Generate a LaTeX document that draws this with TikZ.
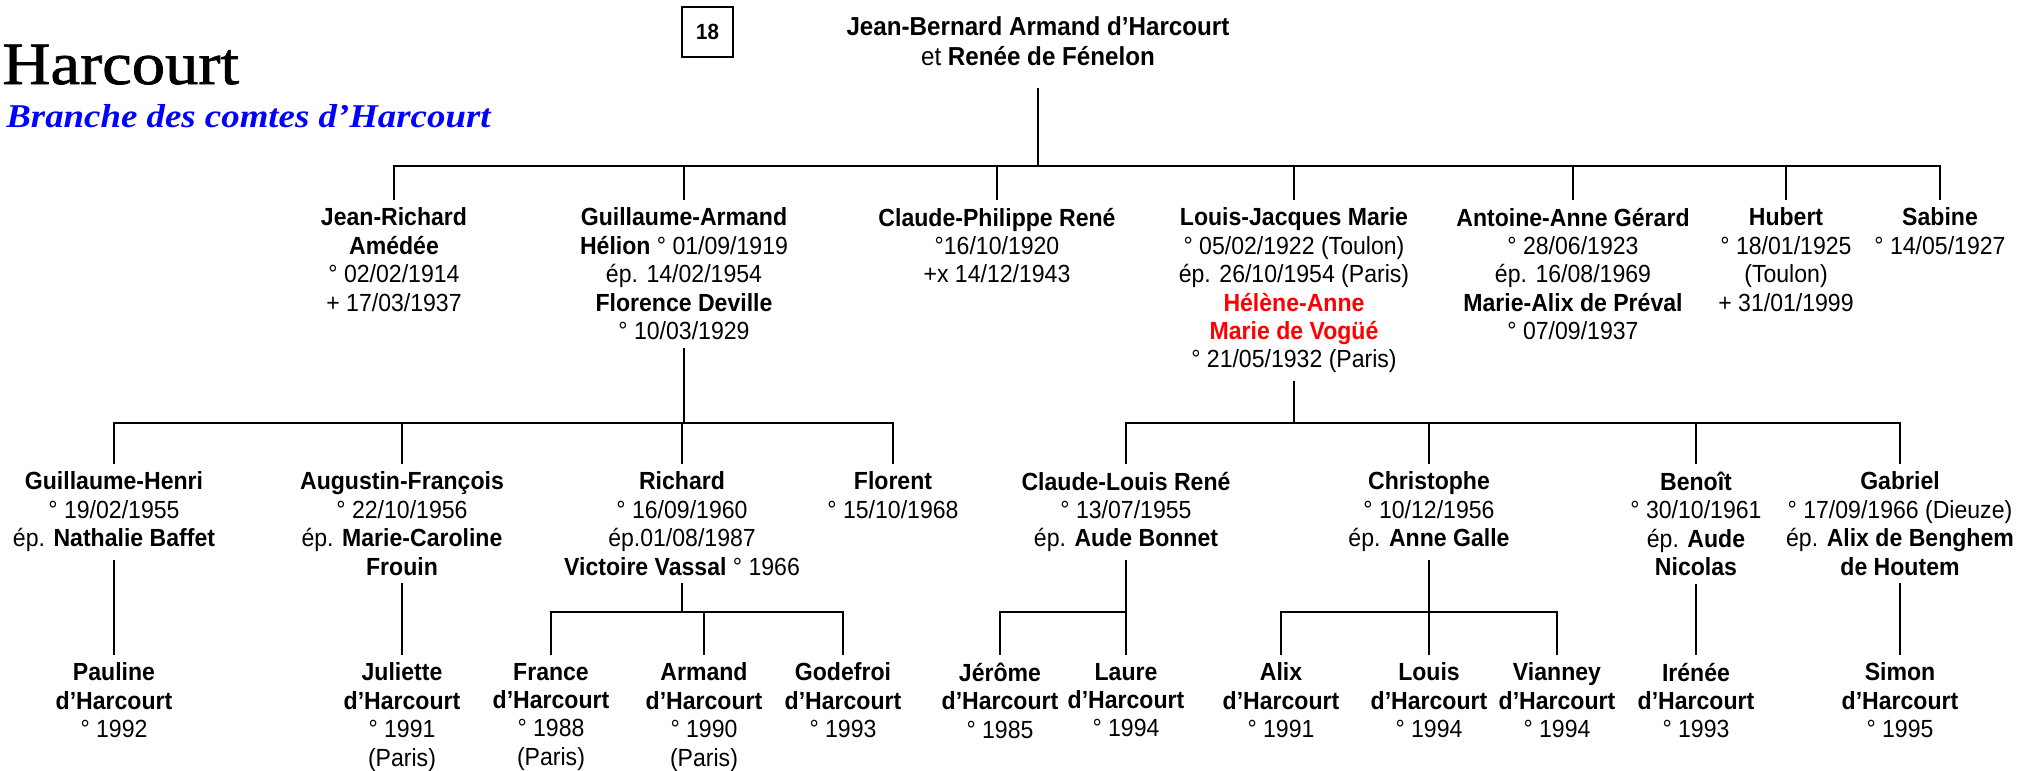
\documentclass[tikz,border=0pt]{standalone}
\usepackage{fontspec}
\setmainfont[FakeStretch=0.93]{Liberation Sans}
\newfontfamily\titlefont[FakeStretch=1.11]{Liberation Serif}
\newfontfamily\bigtitlefont[FakeStretch=1.11,FakeBold=1.2]{Liberation Serif}
\usepackage{tikz}
\usetikzlibrary{positioning}

\tikzset{
  person/.style={anchor=north, align=center, inner sep=0pt, outer ysep=4pt,
    font=\fontsize{12.4}{14.2}\selectfont},
  tline/.style={line width=1pt},
  bar/.style={line width=1.3pt, line cap=rect},
  numbox/.style={draw, line width=0.7pt, minimum width=25.5pt, minimum height=25pt,
    inner sep=0pt, font=\fontsize{11}{13}\selectfont\bfseries}
}

\begin{document}
\begin{tikzpicture}[x=0.5pt,y=-0.5pt]
\useasboundingbox (0,0) rectangle (2036,771);

% titre
\node[anchor=base west, inner sep=0pt, font=\bigtitlefont\fontsize{30}{34}\selectfont] (titre) at (2,84) {Harcourt};
\node[anchor=base west, inner sep=0pt, text=blue, font=\titlefont\fontsize{16.6}{19}\selectfont\bfseries\itshape] (branche) at (6,127) {Branche des comtes d’Harcourt};
\node[numbox] (num) at (707.5,32) {18};

% couple
\node[person, outer ysep=11pt, font=\fontsize{13}{15}\selectfont] (root) at (1038,-5) {\textbf{Jean-Bernard Armand d’Harcourt}\\et \textbf{Renée de Fénelon}};

% enfants
\coordinate (g1) at (0,166);
\node[person] (jr) at (394,200) {\textbf{Jean-Richard}\\\textbf{Amédée}\\° 02/02/1914\\+ 17/03/1937};
\node[person] (ga) at (684,200) {\textbf{Guillaume-Armand}\\\textbf{Hélion} ° 01/09/1919\\ép. 14/02/1954\\\textbf{Florence Deville}\\° 10/03/1929};
\node[person] (cp) at (997,200) {\textbf{Claude-Philippe René}\\°16/10/1920\\+x 14/12/1943};
\node[person] (lj) at (1294,200) {\textbf{Louis-Jacques Marie}\\° 05/02/1922 (Toulon)\\ép. 26/10/1954 (Paris)\\\textcolor{red}{\textbf{Hélène-Anne}}\\\textcolor{red}{\textbf{Marie de Vogüé}}\\° 21/05/1932 (Paris)};
\node[person] (aa) at (1573,200) {\textbf{Antoine-Anne Gérard}\\° 28/06/1923\\ép. 16/08/1969\\\textbf{Marie-Alix de Préval}\\° 07/09/1937};
\node[person] (hu) at (1786,200) {\textbf{Hubert}\\° 18/01/1925\\(Toulon)\\+ 31/01/1999};
\node[person] (sa) at (1940,200) {\textbf{Sabine}\\° 14/05/1927};

\draw[tline] (root.south) -- (root.south |- g1);
\draw[bar] (jr.north |- g1) -- (sa.north |- g1);
\foreach \p in {jr,ga,cp,lj,aa,hu,sa}
  \draw[tline] (\p.north |- g1) -- (\p.north);

% petits-enfants
\coordinate (g2) at (0,423);
\node[person] (gh) at (114,464) {\textbf{Guillaume-Henri}\\° 19/02/1955\\ép. \textbf{Nathalie Baffet}};
\node[person] (af) at (402,464) {\textbf{Augustin-François}\\° 22/10/1956\\ép. \textbf{Marie-Caroline}\\\textbf{Frouin}};
\node[person] (ri) at (682,464) {\textbf{Richard}\\° 16/09/1960\\ép.01/08/1987\\\textbf{Victoire Vassal} ° 1966};
\node[person] (fl) at (893,464) {\textbf{Florent}\\° 15/10/1968};
\node[person] (cl) at (1126,464) {\textbf{Claude-Louis René}\\° 13/07/1955\\ép. \textbf{Aude Bonnet}};
\node[person] (ch) at (1429,464) {\textbf{Christophe}\\° 10/12/1956\\ép. \textbf{Anne Galle}};
\node[person] (be) at (1696,464) {\textbf{Benoît}\\° 30/10/1961\\ép. \textbf{Aude}\\\textbf{Nicolas}};
\node[person] (gb) at (1900,464) {\textbf{Gabriel}\\° 17/09/1966 (Dieuze)\\ép. \textbf{Alix de Benghem}\\\textbf{de Houtem}};

\draw[tline] (ga.south) -- (ga.south |- g2);
\draw[bar] (gh.north |- g2) -- (fl.north |- g2);
\foreach \p in {gh,af,ri,fl}
  \draw[tline] (\p.north |- g2) -- (\p.north);
\draw[tline] (lj.south) -- (lj.south |- g2);
\draw[bar] (cl.north |- g2) -- (gb.north |- g2);
\foreach \p in {cl,ch,be,gb}
  \draw[tline] (\p.north |- g2) -- (\p.north);

% arriere-petits-enfants
\coordinate (g3) at (0,612);
\node[person] (pa) at (114,655) {\textbf{Pauline}\\\textbf{d’Harcourt}\\° 1992};
\node[person] (ju) at (402,655) {\textbf{Juliette}\\\textbf{d’Harcourt}\\° 1991\\(Paris)};
\node[person] (fr) at (551,655) {\textbf{France}\\\textbf{d’Harcourt}\\° 1988\\(Paris)};
\node[person] (ar) at (704,655) {\textbf{Armand}\\\textbf{d’Harcourt}\\° 1990\\(Paris)};
\node[person] (go) at (843,655) {\textbf{Godefroi}\\\textbf{d’Harcourt}\\° 1993};
\node[person] (je) at (1000,655) {\textbf{Jérôme}\\\textbf{d’Harcourt}\\° 1985};
\node[person] (la) at (1126,655) {\textbf{Laure}\\\textbf{d’Harcourt}\\° 1994};
\node[person] (al) at (1281,655) {\textbf{Alix}\\\textbf{d’Harcourt}\\° 1991};
\node[person] (lo) at (1429,655) {\textbf{Louis}\\\textbf{d’Harcourt}\\° 1994};
\node[person] (vi) at (1557,655) {\textbf{Vianney}\\\textbf{d’Harcourt}\\° 1994};
\node[person] (ir) at (1696,655) {\textbf{Irénée}\\\textbf{d’Harcourt}\\° 1993};
\node[person] (si) at (1900,655) {\textbf{Simon}\\\textbf{d’Harcourt}\\° 1995};

\draw[tline] (gh.south) -- (pa.north);
\draw[tline] (af.south) -- (ju.north);
\draw[tline] (ri.south) -- (ri.south |- g3);
\draw[bar] (fr.north |- g3) -- (go.north |- g3);
\foreach \p in {fr,ar,go}
  \draw[tline] (\p.north |- g3) -- (\p.north);
\draw[tline] (cl.south) -- (la.north);
\draw[bar] (je.north |- g3) -- (la.north |- g3);
\draw[tline] (je.north |- g3) -- (je.north);
\draw[tline] (ch.south) -- (lo.north);
\draw[bar] (al.north |- g3) -- (vi.north |- g3);
\foreach \p in {al,vi}
  \draw[tline] (\p.north |- g3) -- (\p.north);
\draw[tline] (be.south) -- (ir.north);
\draw[tline] (gb.south) -- (si.north);
\end{tikzpicture}
\end{document}
